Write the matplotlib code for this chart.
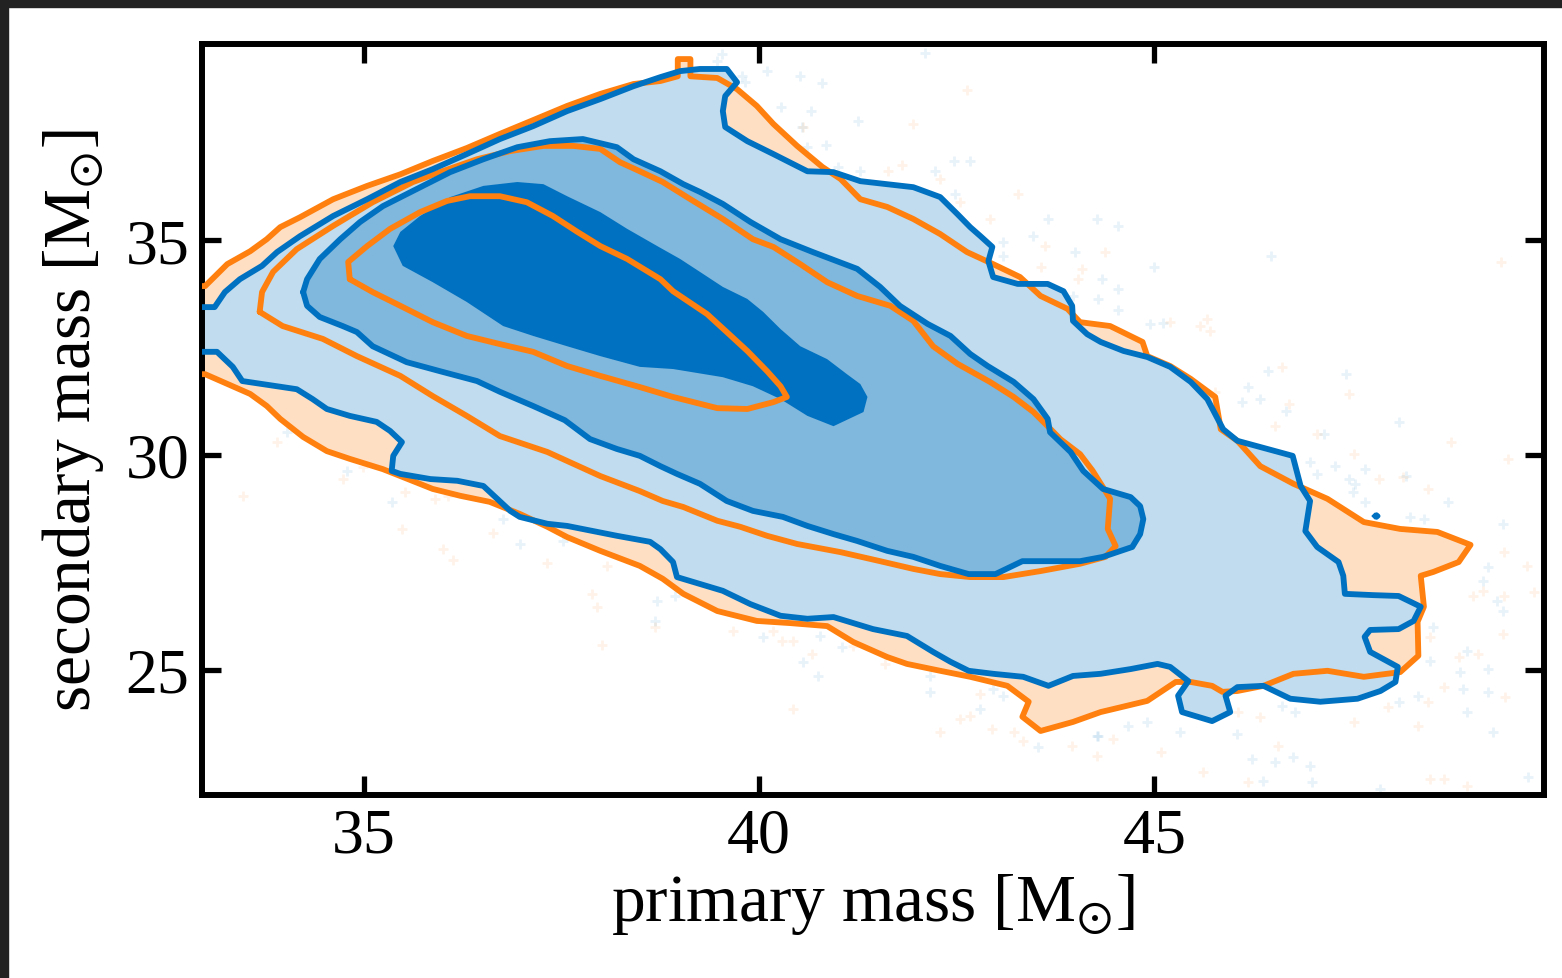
import matplotlib
matplotlib.use("Agg")
import matplotlib.pyplot as plt
from matplotlib.patches import Rectangle

# ---------------------------------------------------------------
# Credible-region contours (primary mass, secondary mass) in M_sun
# ---------------------------------------------------------------

# Blue posterior: outer (90%) region, runs off the left edge
blue_outer_x = [32.90, 33.11, 33.24, 33.43, 33.71, 33.90, 34.19, 34.61, 35.04, 35.46,
                35.87, 36.30, 36.72, 37.14, 37.57, 37.99, 38.41, 38.75, 39.00, 39.25,
                39.59, 39.72, 39.57, 39.54, 39.57, 39.85, 40.18, 40.61, 40.94, 41.28,
                41.62, 41.95, 42.29, 42.51, 42.67, 42.80, 42.95, 42.90, 42.96, 43.27,
                43.65, 43.85, 43.96, 43.97, 44.15, 44.32, 44.61, 44.91, 45.20, 45.46,
                45.67, 45.87, 46.05, 46.43, 46.75, 46.85, 46.97, 46.94, 46.91, 47.06,
                47.33, 47.39, 47.41, 47.77, 48.09, 48.37, 48.28, 48.09, 47.73, 47.66,
                47.73, 48.08, 48.05, 47.86, 47.57, 47.10, 46.72, 46.38, 46.05, 45.90,
                45.96, 45.73, 45.35, 45.30, 45.43, 45.20, 45.04, 44.70, 44.32, 43.97,
                43.66, 43.34, 42.96, 42.65, 42.42, 42.20, 41.87, 41.44, 40.94, 40.61,
                40.27, 39.89, 39.54, 39.25, 38.96, 38.91, 38.75, 38.62, 38.20, 37.57,
                37.32, 36.97, 36.85, 36.51, 36.18, 35.84, 35.46, 35.35, 35.37, 35.48,
                35.33, 35.16, 34.82, 34.53, 34.35, 34.15, 33.46, 33.34, 33.14, 32.90]
blue_outer_y = [33.44, 33.44, 33.79, 34.09, 34.40, 34.72, 35.09, 35.56, 35.95, 36.35,
                36.65, 37.00, 37.35, 37.65, 38.00, 38.28, 38.58, 38.79, 38.93, 38.98,
                38.98, 38.67, 38.35, 38.00, 37.63, 37.30, 37.00, 36.60, 36.58, 36.37,
                36.30, 36.23, 36.00, 35.60, 35.30, 35.09, 34.84, 34.51, 34.14, 33.98,
                33.98, 33.81, 33.47, 33.12, 32.81, 32.63, 32.42, 32.28, 32.05, 31.70,
                31.30, 30.60, 30.33, 30.14, 29.98, 29.28, 28.93, 28.58, 28.23, 27.86,
                27.51, 27.19, 26.77, 26.74, 26.72, 26.47, 26.14, 25.95, 25.93, 25.77,
                25.42, 25.07, 24.72, 24.51, 24.33, 24.26, 24.33, 24.63, 24.60, 24.40,
                24.02, 23.81, 24.02, 24.40, 24.74, 25.07, 25.14, 25.02, 24.91, 24.86,
                24.63, 24.84, 24.91, 24.98, 25.19, 25.42, 25.79, 25.95, 26.23, 26.19,
                26.26, 26.53, 26.84, 27.00, 27.16, 27.51, 27.81, 27.98, 28.12, 28.35,
                28.40, 28.56, 28.70, 29.28, 29.40, 29.44, 29.56, 29.63, 29.98, 30.30,
                30.56, 30.77, 30.91, 31.07, 31.30, 31.53, 31.72, 32.05, 32.40, 32.40]

# Blue posterior: 50% region
blue_mid_x = [34.23, 34.28, 34.44, 34.70, 34.95, 35.24, 35.67, 36.09, 36.51, 36.94,
              37.35, 37.77, 38.20, 38.41, 38.75, 39.04, 39.25, 39.54, 39.89, 40.27,
              40.68, 41.24, 41.53, 41.78, 42.13, 42.42, 42.67, 42.89, 43.22, 43.47,
              43.65, 43.68, 43.94, 44.10, 44.35, 44.70, 44.82, 44.86, 44.82, 44.72,
              44.35, 44.06, 43.33, 42.99, 42.65, 42.29, 41.95, 41.62, 41.24, 40.94,
              40.61, 40.30, 39.92, 39.59, 39.25, 38.96, 38.75, 38.49, 38.20, 37.86,
              37.54, 37.14, 36.72, 36.43, 35.96, 35.54, 35.11, 34.91, 34.73, 34.44,
              34.28, 34.23]
blue_mid_y = [33.79, 34.09, 34.56, 35.02, 35.42, 35.79, 36.19, 36.58, 36.88, 37.16,
              37.30, 37.35, 37.16, 36.88, 36.60, 36.30, 36.12, 35.84, 35.42, 35.02,
              34.72, 34.33, 33.91, 33.47, 33.05, 32.77, 32.35, 32.07, 31.70, 31.30,
              30.84, 30.53, 30.07, 29.63, 29.21, 29.02, 28.81, 28.51, 28.16, 27.86,
              27.63, 27.53, 27.53, 27.23, 27.23, 27.42, 27.63, 27.77, 28.00, 28.16,
              28.35, 28.56, 28.70, 28.93, 29.33, 29.56, 29.74, 29.98, 30.14, 30.37,
              30.81, 31.14, 31.47, 31.72, 31.95, 32.16, 32.53, 32.86, 33.00, 33.21,
              33.47, 33.79]

# Blue posterior: core region
blue_core_x = [35.37, 35.46, 35.71, 36.09, 36.51, 36.94, 37.27, 37.57, 37.99, 38.33,
               38.71, 39.00, 39.25, 39.54, 39.85, 40.05, 40.27, 40.52, 40.86, 41.11,
               41.28, 41.37, 41.32, 40.94, 40.61, 40.27, 39.92, 39.54, 38.91, 38.49,
               37.99, 37.57, 37.14, 36.76, 36.30, 35.87, 35.49, 35.37]
blue_core_y = [34.86, 35.19, 35.56, 36.00, 36.26, 36.35, 36.30, 36.02, 35.65, 35.26,
               34.86, 34.56, 34.26, 33.91, 33.63, 33.33, 32.93, 32.53, 32.23, 31.88,
               31.65, 31.35, 31.00, 30.67, 30.91, 31.30, 31.60, 31.81, 32.00, 32.05,
               32.30, 32.53, 32.77, 33.00, 33.56, 34.02, 34.40, 34.86]

# Isolated blue island at the upper right
blue_dot_x = [47.79, 47.81, 47.83, 47.81, 47.79]
blue_dot_y = [28.58, 28.61, 28.58, 28.55, 28.58]

# Orange posterior: outer (90%) region, runs off the left edge
orange_outer_x = [32.90, 32.99, 33.27, 33.56, 33.77, 33.94, 34.19, 34.61, 35.04, 35.46,
                  35.87, 36.30, 36.72, 37.14, 37.57, 37.99, 38.41, 38.75, 38.97, 38.97,
                  39.13, 39.13, 39.47, 39.72, 39.97, 40.18, 40.48, 40.80, 41.03, 41.28,
                  41.62, 41.95, 42.29, 42.63, 42.96, 43.30, 43.56, 43.90, 44.06, 44.44,
                  44.85, 44.91, 45.20, 45.46, 45.77, 45.84, 46.05, 46.34, 46.76, 47.19,
                  47.65, 48.11, 48.58, 49.00, 48.85, 48.53, 48.37, 48.41, 48.33, 48.34,
                  48.11, 47.65, 47.19, 46.76, 46.38, 46.05, 45.86, 45.73, 45.46, 45.27,
                  44.91, 44.48, 44.32, 43.97, 43.56, 43.33, 43.41, 43.14, 42.67, 42.29,
                  41.87, 41.62, 41.19, 40.86, 40.39, 39.97, 39.47, 39.04, 38.78, 38.49,
                  37.99, 37.57, 37.32, 36.97, 36.59, 36.22, 35.87, 35.46, 35.24, 34.82,
                  34.53, 34.23, 33.94, 33.77, 33.56, 32.99, 32.90]
orange_outer_y = [33.93, 33.93, 34.44, 34.74, 35.02, 35.30, 35.53, 35.95, 36.26, 36.53,
                  36.84, 37.14, 37.47, 37.79, 38.12, 38.40, 38.63, 38.70, 38.81, 39.21,
                  39.21, 38.81, 38.77, 38.51, 38.12, 37.70, 37.19, 36.70, 36.42, 35.95,
                  35.77, 35.49, 35.14, 34.72, 34.44, 34.14, 33.70, 33.40, 33.09, 33.00,
                  32.63, 32.30, 32.07, 31.77, 31.35, 30.60, 30.33, 29.74, 29.33, 28.98,
                  28.44, 28.28, 28.21, 27.91, 27.51, 27.28, 27.19, 26.47, 26.12, 25.33,
                  24.95, 24.84, 24.98, 24.91, 24.63, 24.51, 24.49, 24.63, 24.72, 24.72,
                  24.28, 24.09, 24.02, 23.79, 23.58, 23.91, 24.26, 24.63, 24.84, 24.98,
                  25.14, 25.30, 25.65, 26.02, 26.09, 26.14, 26.37, 26.77, 27.12, 27.42,
                  27.77, 28.09, 28.33, 28.63, 28.91, 29.05, 29.21, 29.51, 29.67, 29.91,
                  30.09, 30.42, 30.84, 31.14, 31.42, 31.88, 31.88]

# Orange posterior: 50% region
orange_mid_x = [33.68, 33.71, 33.85, 34.15, 34.61, 35.11, 35.62, 35.96, 36.43, 36.85,
                37.27, 37.65, 37.99, 38.24, 38.49, 38.78, 39.13, 39.54, 39.92, 40.18,
                40.52, 40.86, 41.24, 41.66, 41.95, 42.20, 42.51, 42.92, 43.22, 43.47,
                43.65, 43.81, 44.06, 44.22, 44.38, 44.44, 44.41, 44.51, 44.38, 44.06,
                43.56, 43.09, 42.67, 42.29, 41.95, 41.53, 41.03, 40.48, 40.10, 39.76,
                39.47, 39.04, 38.78, 38.49, 37.99, 37.32, 36.72, 36.30, 35.87, 35.46,
                34.91, 34.48, 33.97, 33.68]
orange_mid_y = [33.33, 33.79, 34.26, 34.79, 35.33, 35.88, 36.35, 36.58, 36.88, 37.07,
                37.19, 37.19, 37.12, 36.81, 36.60, 36.35, 35.95, 35.49, 35.02, 34.84,
                34.44, 34.02, 33.70, 33.47, 33.12, 32.53, 32.12, 31.70, 31.35, 31.00,
                30.67, 30.37, 30.02, 29.63, 29.16, 28.98, 28.28, 27.88, 27.63, 27.47,
                27.30, 27.16, 27.16, 27.23, 27.35, 27.53, 27.74, 27.93, 28.12, 28.33,
                28.47, 28.79, 28.93, 29.16, 29.51, 30.07, 30.44, 30.91, 31.37, 31.84,
                32.30, 32.70, 33.00, 33.33]

# Orange posterior: core region
orange_core_x = [34.82, 34.80, 35.04, 35.33, 35.71, 36.05, 36.34, 36.72, 37.06, 37.39,
                 37.70, 37.99, 38.33, 38.75, 38.91, 39.34, 39.59, 39.85, 40.10, 40.27,
                 40.35, 40.18, 39.85, 39.47, 38.91, 38.49, 37.99, 37.57, 37.14, 36.72,
                 36.30, 35.87, 35.46, 35.11, 34.82]
orange_core_y = [34.09, 34.49, 34.86, 35.26, 35.65, 35.91, 36.02, 36.02, 35.88, 35.56,
                 35.19, 34.86, 34.56, 34.09, 33.81, 33.28, 32.86, 32.42, 31.95, 31.60,
                 31.35, 31.23, 31.07, 31.09, 31.35, 31.58, 31.84, 32.07, 32.40, 32.58,
                 32.77, 33.09, 33.47, 33.79, 34.09]

# Samples lying outside the outer regions
blue_samples_x = [39.53, 39.47, 40.10, 39.78, 39.82, 40.52, 40.80, 40.27, 40.65, 41.25,
                  40.54, 40.61, 40.84, 41.00, 41.28, 42.10, 42.46, 42.67, 42.23, 42.48,
                  43.09, 43.09, 43.66, 44.00, 44.28, 44.29, 43.97, 43.47, 44.54, 44.99,
                  44.34, 44.54, 44.54, 44.94, 45.11, 46.48, 46.44, 46.18, 46.11, 46.34,
                  46.66, 47.43, 48.10, 34.03, 34.78, 35.35, 36.76, 36.97, 37.52, 38.71,
                  38.68, 38.94, 40.05, 40.77, 41.05, 40.56, 40.75, 42.16, 42.16, 42.80,
                  42.96, 43.09, 43.53, 44.28, 47.14, 46.97, 47.29, 47.06, 47.67, 47.46,
                  47.54, 47.51, 48.18, 47.67, 48.24, 48.41, 48.71, 49.41, 49.22, 49.16,
                  49.34, 49.41, 48.96, 48.87, 49.22, 48.91, 49.22, 48.53, 48.49, 48.34,
                  48.09, 48.96, 49.29, 46.97, 46.53, 46.24, 46.05, 45.33, 44.91, 44.66,
                  44.29, 46.76, 46.37, 47.00, 47.86, 49.73, 46.62, 46.78]
blue_samples_y = [39.33, 39.16, 38.93, 38.81, 38.67, 38.81, 38.65, 38.09, 38.00, 37.77,
                  37.63, 37.16, 37.21, 36.70, 36.60, 39.35, 36.84, 36.84, 36.60, 36.07,
                  34.95, 34.63, 35.49, 34.72, 35.49, 33.63, 33.70, 35.09, 35.33, 34.37,
                  34.09, 33.86, 33.37, 33.05, 33.07, 34.63, 31.95, 31.58, 31.23, 31.30,
                  31.02, 31.88, 30.77, 30.53, 29.63, 28.91, 28.51, 27.93, 28.00, 26.60,
                  26.14, 26.72, 25.77, 25.79, 25.53, 25.19, 24.86, 24.86, 24.49, 24.09,
                  24.56, 24.40, 23.21, 23.47, 30.49, 29.84, 29.74, 29.56, 29.67, 29.44,
                  29.33, 29.14, 29.51, 28.91, 28.56, 28.51, 28.91, 28.40, 27.40, 27.07,
                  26.60, 26.37, 25.44, 24.95, 25.02, 24.56, 24.49, 26.00, 25.21, 24.40,
                  24.26, 24.02, 23.56, 22.77, 22.86, 22.93, 23.51, 23.56, 23.79, 23.70,
                  23.47, 22.98, 22.42, 22.40, 22.23, 22.51, 24.16, 24.02]

orange_samples_x = [42.63, 41.94, 40.56, 41.81, 41.63, 42.29, 42.54, 43.27, 42.92, 43.62,
                    44.09, 44.03, 43.56, 44.38, 45.20, 45.67, 45.58, 45.71, 46.62, 46.70,
                    47.46, 49.39, 45.77, 46.53, 33.90, 33.47, 34.73, 34.99, 35.52, 35.90,
                    36.06, 35.48, 36.00, 36.13, 36.63, 37.32, 38.08, 37.89, 37.95, 38.01,
                    38.68, 39.67, 40.18, 40.29, 40.43, 40.67, 41.19, 41.59, 40.43, 42.80,
                    42.54, 42.67, 42.29, 42.95, 43.22, 43.34, 43.96, 44.28, 47.06, 47.52,
                    47.84, 48.14, 48.46, 48.75, 49.47, 49.42, 49.72, 49.16, 49.80, 49.42,
                    49.03, 49.41, 48.85, 49.09, 48.49, 48.46, 48.66, 49.44, 47.95, 48.33,
                    47.52, 46.34, 46.06, 45.08, 45.62, 46.18, 46.56, 48.49, 48.66, 48.96,
                    44.48]
orange_samples_y = [38.49, 37.70, 37.63, 36.74, 36.60, 36.42, 35.88, 36.07, 35.49, 34.86,
                    34.33, 34.09, 34.37, 34.72, 33.09, 33.16, 33.00, 32.88, 32.05, 31.19,
                    31.42, 34.49, 31.47, 30.67, 30.30, 29.05, 29.44, 29.72, 29.14, 28.98,
                    29.05, 28.28, 27.81, 27.56, 28.19, 27.49, 27.42, 26.77, 26.47, 25.58,
                    26.00, 25.91, 25.91, 25.67, 25.67, 25.37, 25.56, 25.14, 24.09, 24.44,
                    23.86, 23.93, 23.56, 23.63, 23.56, 23.35, 23.23, 23.00, 30.49, 30.02,
                    29.44, 29.49, 29.21, 30.30, 29.91, 27.74, 27.42, 26.84, 26.81, 26.72,
                    26.72, 25.84, 25.30, 25.37, 25.77, 24.26, 24.60, 24.37, 24.14, 23.70,
                    23.79, 23.91, 24.02, 23.09, 22.63, 22.40, 23.23, 22.47, 22.47, 22.30,
                    23.40]

x_ticks = [35, 40, 45]
y_ticks = [25, 30, 35]

# ---------------------------------------------------------------
BLUE = "#0071C0"
BLUE_MID = "#80B7DD"
BLUE_LIGHT = "#C0DCEE"
ORANGE = "#FF800E"
PEACH = "#FEDFC4"
LW = 4.2

plt.rcParams["font.family"] = ["Liberation Serif", "DejaVu Serif"]
plt.rcParams["mathtext.fontset"] = "stix"

fig = plt.figure(figsize=(15.62, 9.79), dpi=100)
ax = fig.add_axes([0.1293, 0.1869, 0.8592, 0.7671])

# Faint samples beneath the filled regions
ax.plot(blue_samples_x, blue_samples_y, "+", color=BLUE, alpha=0.09,
        markersize=7, markeredgewidth=2, zorder=0.5)
ax.plot(orange_samples_x, orange_samples_y, "+", color=ORANGE, alpha=0.09,
        markersize=7, markeredgewidth=2, zorder=0.5)

# Filled regions
ax.fill(orange_outer_x, orange_outer_y, color=PEACH, lw=0, zorder=1)
ax.fill(blue_outer_x, blue_outer_y, color=BLUE_LIGHT, lw=0, zorder=2)
ax.fill(blue_mid_x, blue_mid_y, color=BLUE_MID, lw=0, zorder=3)
ax.fill(blue_core_x, blue_core_y, color=BLUE, lw=0, zorder=4)

line_kw = dict(lw=LW, solid_joinstyle="round", solid_capstyle="round")
# Orange contour lines
ax.plot(orange_outer_x, orange_outer_y, color=ORANGE, zorder=5, **line_kw)
ax.plot(orange_mid_x, orange_mid_y, color=ORANGE, zorder=5, **line_kw)
ax.plot(orange_core_x, orange_core_y, color=ORANGE, zorder=5, **line_kw)

# Blue contour lines
ax.plot(blue_outer_x, blue_outer_y, color=BLUE, zorder=6, **line_kw)
ax.plot(blue_mid_x, blue_mid_y, color=BLUE, zorder=6, **line_kw)
ax.plot(blue_dot_x, blue_dot_y, color=BLUE, zorder=6, lw=3.5)

ax.set_xlim(32.95, 49.93)
ax.set_ylim(22.09, 39.56)
ax.set_xticks(x_ticks)
ax.set_yticks(y_ticks)
ax.tick_params(direction="in", length=14, width=3.8, top=True, right=True,
               labelsize=46, pad=9)
for sp in ax.spines.values():
    sp.set_linewidth(4.3)

ax.set_xlabel(r"primary mass [M$_{\odot}$]", fontsize=48.5, labelpad=4)
ax.set_ylabel(r"secondary mass [M$_{\odot}$]", fontsize=48.5, labelpad=14)

# Dark frame along the top and left edges
fig.patches.append(Rectangle((0, 1 - 8 / 979), 1, 8 / 979, transform=fig.transFigure,
                             color="#222222", zorder=10))
fig.patches.append(Rectangle((0, 0), 8 / 1562, 1, transform=fig.transFigure,
                             color="#222222", zorder=10))

fig.savefig("out.png", dpi=100)
